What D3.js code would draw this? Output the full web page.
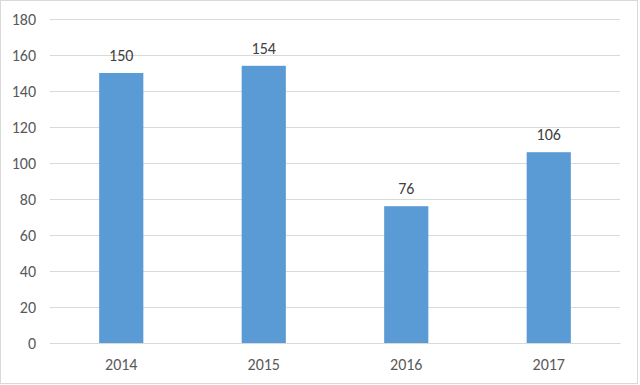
<!DOCTYPE html>
<html>
<head>
<meta charset="utf-8">
<script src="https://cdn.jsdelivr.net/npm/d3@7"></script>
<style>
  body { margin: 0; background: #fff; }
  svg text { font-family: Carlito, "Liberation Sans", Arial, sans-serif; }
</style>
</head>
<body>
<div id="chart"></div>
<script>
var years = ["2014", "2015", "2016", "2017"];
var counts = [150, 154, 76, 106];
var yTicks = [0, 20, 40, 60, 80, 100, 120, 140, 160, 180];

var svgWidth = 640;
var svgHeight = 385;

var margin = { top: 19, right: 20, bottom: 42, left: 50 };
var width = svgWidth - margin.left - margin.right;
var height = svgHeight - margin.top - margin.bottom;

var svg = d3.select("#chart")
  .append("svg")
  .attr("width", svgWidth)
  .attr("height", svgHeight);

// outer border
svg.append("rect")
  .attr("x", 0.5).attr("y", 0.5)
  .attr("width", svgWidth - 3).attr("height", svgHeight - 2)
  .attr("fill", "#fff")
  .attr("stroke", "#d9d9d9");

var chartGroup = svg.append("g")
  .attr("transform", `translate(${margin.left}, ${margin.top})`);

var xScale = d3.scaleBand()
  .domain(years)
  .range([0, width])
  .paddingInner(0.69)
  .paddingOuter(0.345);

var yScale = d3.scaleLinear()
  .domain([0, 180])
  .range([height, 0]);

// gridlines
var leftAxis = d3.axisLeft(yScale)
  .tickValues(yTicks)
  .tickSize(-width)
  .tickPadding(14);

var yAxisG = chartGroup.append("g").call(leftAxis);
yAxisG.select(".domain").remove();
yAxisG.selectAll(".tick line").attr("stroke", "#d9d9d9");
yAxisG.selectAll(".tick text")
  .attr("fill", "#595959")
  .attr("font-size", 16);

var bottomAxis = d3.axisBottom(xScale).tickSize(0).tickPadding(16);
var xAxisG = chartGroup.append("g")
  .attr("transform", `translate(0, ${height})`)
  .call(bottomAxis);
xAxisG.select(".domain").attr("stroke", "#d9d9d9");
xAxisG.selectAll(".tick text")
  .attr("fill", "#595959")
  .attr("font-size", 16);

var data = years.map((y, i) => ({ year: y, value: counts[i] }));

chartGroup.selectAll("rect.bar")
  .data(data)
  .enter()
  .append("rect")
  .attr("class", "bar")
  .attr("x", d => xScale(d.year))
  .attr("y", d => yScale(d.value))
  .attr("width", xScale.bandwidth())
  .attr("height", d => height - yScale(d.value))
  .attr("fill", "#5b9bd5");

chartGroup.selectAll("text.lbl")
  .data(data)
  .enter()
  .append("text")
  .attr("class", "lbl")
  .attr("x", d => xScale(d.year) + xScale.bandwidth() / 2)
  .attr("y", d => yScale(d.value) - 12)
  .attr("text-anchor", "middle")
  .attr("font-size", 16)
  .attr("fill", "#404040")
  .text(d => d.value);
</script>
</body>
</html>
